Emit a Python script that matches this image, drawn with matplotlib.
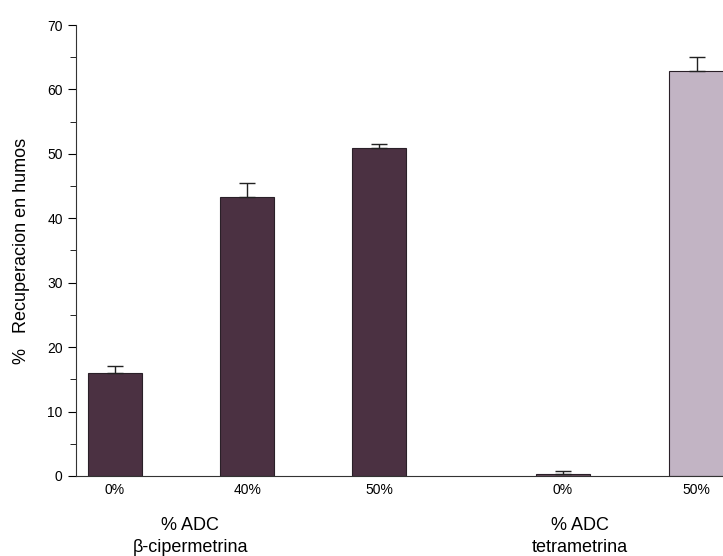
import numpy as np
import matplotlib
matplotlib.use("Agg")
import matplotlib.pyplot as plt

plt.rcParams['font.family'] = ['Liberation Sans', 'DejaVu Sans']

# data
labels = ["0%", "40%", "50%", "0%", "50%"]
positions = [0, 1, 2, 3.39, 4.4]
values = [16.0, 43.3, 50.9, 0.3, 62.9]
errors = [1.1, 2.1, 0.6, 0.5, 2.1]
colors = ["#4b3142", "#4b3142", "#4b3142", "#6a5060", "#c2b4c4"]
groups = ["% ADC\n\u03b2-cipermetrina", "% ADC\ntetrametrina"]
group_x = [0.57, 3.52]

fig = plt.figure(figsize=(7.23, 5.56), dpi=100)
ax = fig.add_axes([0.105, 0.144, 0.895, 0.811])

ax.bar(positions, values, width=0.41, color=colors, edgecolor="#2a2028", linewidth=0.8)
for x, v, e in zip(positions, values, errors):
    ax.errorbar([x], [v], yerr=[[0], [e]], fmt="none", ecolor="#222222",
                elinewidth=1, capsize=6, capthick=1)

ax.set_xlim(-0.295, 4.6)
ax.set_ylim(0, 70)
ax.set_yticks(np.arange(0, 71, 10))
ax.set_yticks(np.arange(5, 70, 10), minor=True)
ax.set_xticks(positions)
ax.set_xticklabels(labels, fontsize=10)
ax.tick_params(axis="x", length=0, pad=5)
ax.tick_params(axis="y", which="major", length=6, labelsize=10, direction="out")
ax.tick_params(axis="y", which="minor", length=4, direction="out")
ax.spines["top"].set_visible(False)
ax.spines["right"].set_visible(False)
ax.spines["left"].set_color("#333333")
ax.spines["bottom"].set_color("#333333")

ax.set_ylabel("%   Recuperacion en humos", fontsize=13, labelpad=12)

for gx, g in zip(group_x, groups):
    ax.text(gx, -6.4, g, ha="center", va="top", fontsize=13, linespacing=1.35)

fig.savefig("out.png", dpi=100)
